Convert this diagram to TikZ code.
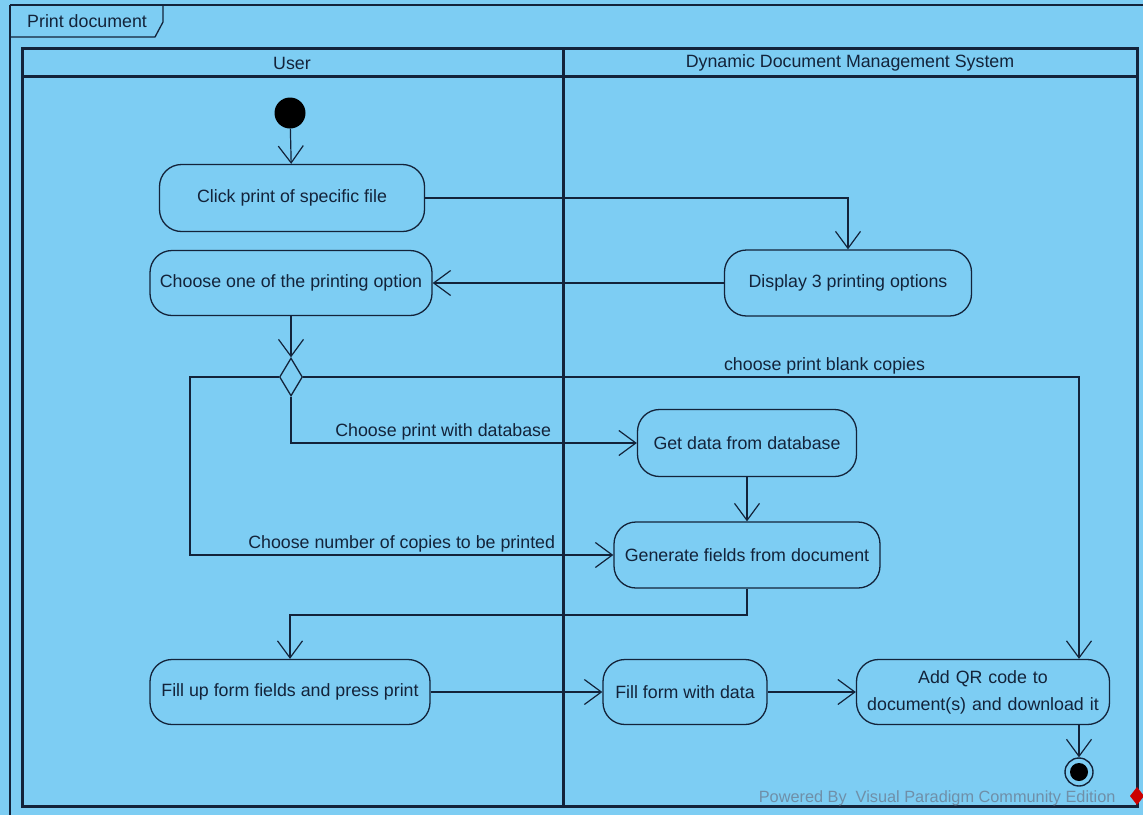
\documentclass[tikz,border=0pt]{standalone}
\usepackage{fontspec}
\setmainfont{Liberation Sans}
\usetikzlibrary{arrows.meta,shapes.geometric}
\definecolor{bgblue}{HTML}{7DCDF3}
\definecolor{ink}{HTML}{13233A}
\definecolor{wm}{HTML}{6F8FA8}
\tikzset{
  act/.style={draw=ink,line width=1.3pt,rounded corners=22pt,fill=bgblue,font=\fontsize{17.8}{22}\selectfont,text=ink,align=center,inner sep=0pt},
  flow/.style={draw=ink,line width=1.2pt,-{Straight Barb[length=17pt,width=25pt,line width=1.2pt]}},
  lbl/.style={font=\fontsize{17.8}{22}\selectfont,text=ink,inner sep=1pt},
  lane/.style={draw=ink,line width=3pt}
}
\begin{document}
\begin{tikzpicture}[x=1pt,y=-1pt]
\useasboundingbox (0,0) rectangle (1143,815);
\fill[bgblue] (0,0) rectangle (1143,815);
% frame
\draw[ink,line width=1.3pt] (10,5) -- (10,815);
\draw[ink,line width=1.3pt] (10,5) -- (1143,5);
\draw[ink,line width=1.3pt] (10,37) -- (155,37) -- (163,22) -- (163,5);
\node[lbl,anchor=west] (title) at (26,21) {Print document};
% pool
\draw[lane] (22,48) rectangle (1137,806);
\draw[lane] (22,76) -- (1137,76);
\draw[lane] (563,48) -- (563,806);
\node[lbl] (user) at (292,63) {User};
\node[lbl] (dms) at (850,63) {Dynamic Document Management System};
% nodes
\node[circle,fill=black,minimum size=31pt,inner sep=0pt] (init) at (290,113) {};
\node[act,minimum width=265pt,minimum height=67pt] (click) at (292,198) {Click print of specific file};
\node[act,minimum width=282pt,minimum height=65pt] (choose) at (291,283) {Choose one of the printing option};
\node[act,minimum width=247pt,minimum height=66pt] (display) at (848,283) {Display 3 printing options};
\node[diamond,draw=ink,line width=1.3pt,fill=bgblue,minimum width=23pt,minimum height=38pt,inner sep=0pt] (dec) at (291,377) {};
\node[act,minimum width=219pt,minimum height=67pt] (getdata) at (747,443) {Get data from database};
\node[act,minimum width=266pt,minimum height=66pt] (gen) at (747,555) {Generate fields from document};
\node[act,minimum width=280pt,minimum height=65pt] (fillup) at (290,692) {Fill up form fields and press print};
\node[act,minimum width=164pt,minimum height=65pt] (fillform) at (685,692) {Fill form with data};
\node[act,minimum width=253pt,minimum height=65pt,text width=245pt] (addqr) at (983,692) {Add QR code to\\[5pt]document(s) and download it};
\node[circle,draw=ink,line width=1.4pt,minimum size=28pt,inner sep=0pt] (final) at (1079,772) {};
\node[circle,fill=black,minimum size=18pt,inner sep=0pt] at (final) {};
% connectors
\draw[flow] (init) -- (click);
\draw[flow] (click.east) -| (display.north);
\draw[flow] (display.west) -- (choose.east);
\draw[flow] (choose.south) -- (dec.north);
\draw[flow] (dec.east) -| (addqr.north -| final) node[lbl,pos=0.336,above=1pt] {choose print blank copies};
\draw[flow] (dec.south) |- (getdata.west) node[lbl,pos=0.72,above=1pt] {Choose print with database};
\draw[flow] (dec.west) -- (190,377) |- (gen.west) node[lbl,pos=0.75,above=1pt] {Choose number of copies to be printed};
\draw[flow] (getdata) -- (gen);
\coordinate (g1) at (747,615);
\draw[flow] (gen.south) -- (g1) -| (fillup.north);
\draw[flow] (fillup.east) -- (fillform.west);
\draw[flow] (fillform.east) -- (addqr.west);
\draw[flow] (addqr.south -| final) -- (final.north);
% watermark
\node[font=\fontsize{16.3}{20}\selectfont,text=wm,anchor=east] (wmtext) at (1119,798) {Powered By\ \ Visual Paradigm Community Edition};
\fill[red!80!black] (1137,787) -- (1144,796) -- (1137,805) -- (1130,796) -- cycle;
\end{tikzpicture}
\end{document}
